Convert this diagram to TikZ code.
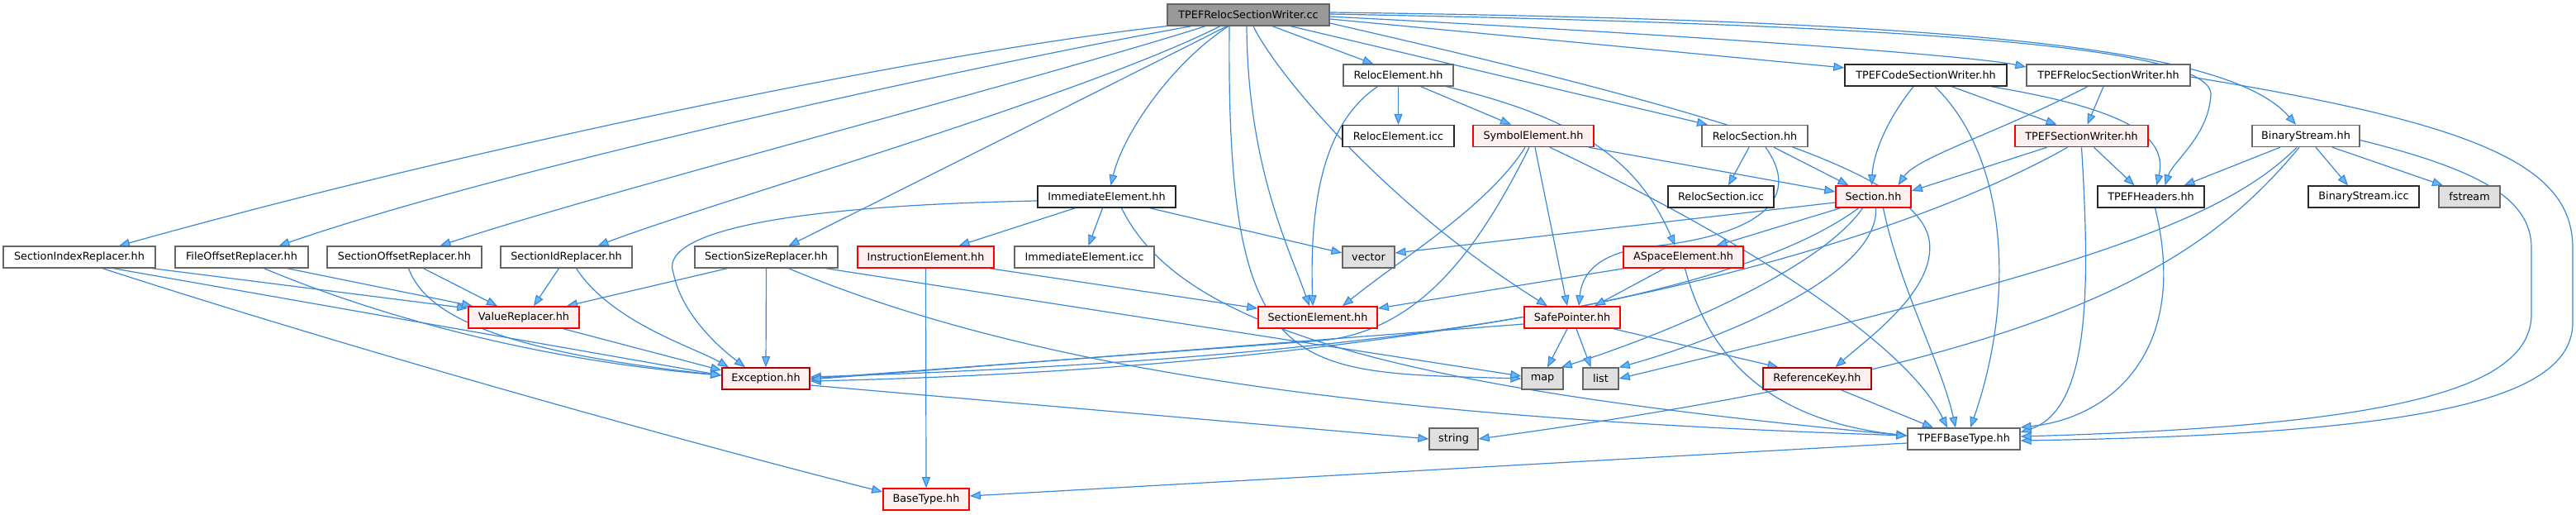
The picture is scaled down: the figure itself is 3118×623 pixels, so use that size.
\documentclass[tikz,border=0pt]{standalone}
\usepackage{fontspec}
\setmainfont{DejaVu Sans}
\usetikzlibrary{arrows.meta}
\definecolor{edgec}{HTML}{3A88D6}
\definecolor{arrf}{HTML}{63B8FF}
\definecolor{bordc}{HTML}{666666}
\definecolor{darkc}{HTML}{2A2A2A}
\definecolor{redf}{HTML}{FFF0F0}
\definecolor{extf}{HTML}{E0E0E0}
\definecolor{rootf}{HTML}{999999}
\definecolor{dred}{HTML}{B00000}
\pgfdeclarelayer{edges}
\pgfsetlayers{edges,main}
\begin{document}
\begin{tikzpicture}[x=1pt,y=-1pt,
  box/.style={rectangle, inner sep=0pt, minimum height=26pt, font=\fontsize{12.8}{15}\selectfont, line width=1.3pt, text=black},
  nrm/.style={box, draw=bordc, fill=white},
  drk/.style={box, draw=darkc, fill=white},
  redb/.style={box, draw=red, fill=redf, line width=1.6pt},
  dredb/.style={box, draw=dred, fill=redf, line width=1.6pt},
  ext/.style={box, draw=bordc, fill=extf},
  rootb/.style={box, draw=bordc, fill=rootf},
  ed/.style={draw=edgec, line width=1.2pt, -{Triangle[length=13pt,width=10pt,fill=arrf]}}
]
\useasboundingbox (0,0) rectangle (3118,623);

% nodes
\node[rootb, minimum width=196pt] (R) at (1511,18) {TPEFRelocSectionWriter.cc};
\node[nrm, minimum width=133pt] (RE) at (1692.5,91) {RelocElement.hh};
\node[drk, minimum width=196pt] (TCSW) at (2331,91) {TPEFCodeSectionWriter.hh};
\node[nrm, minimum width=198pt] (TRSW) at (2552,91) {TPEFRelocSectionWriter.hh};
\node[drk, minimum width=135pt] (REicc) at (1692.5,164.5) {RelocElement.icc};
\node[redb, minimum width=146pt] (SymE) at (1856,164.5) {SymbolElement.hh};
\node[nrm, minimum width=128pt] (RS) at (2124,164.5) {RelocSection.hh};
\node[redb, minimum width=161pt] (TSW) at (2519.5,164.5) {TPEFSectionWriter.hh};
\node[nrm, minimum width=130pt] (BS) at (2791,164.5) {BinaryStream.hh};
\node[drk, minimum width=167pt] (IE) at (1339.5,238) {ImmediateElement.hh};
\node[drk, minimum width=128pt] (RSicc) at (2083,238) {RelocSection.icc};
\node[redb, minimum width=91pt] (Sec) at (2267.5,238) {Section.hh};
\node[drk, minimum width=129pt] (TH) at (2603.5,238) {TPEFHeaders.hh};
\node[drk, minimum width=134pt] (BSicc) at (2861,238) {BinaryStream.icc};
\node[ext, minimum width=74pt] (fst) at (2989,238) {fstream};
\node[nrm, minimum width=184pt] (SIR) at (96,311) {SectionIndexReplacer.hh};
\node[nrm, minimum width=161pt] (FOR) at (292.5,311) {FileOffsetReplacer.hh};
\node[nrm, minimum width=187pt] (SOR) at (489.5,311) {SectionOffsetReplacer.hh};
\node[nrm, minimum width=159pt] (SIdR) at (685.5,311) {SectionIdReplacer.hh};
\node[nrm, minimum width=173pt] (SSR) at (927.5,311) {SectionSizeReplacer.hh};
\node[redb, minimum width=165pt] (InstrE) at (1120.5,311) {InstructionElement.hh};
\node[nrm, minimum width=169pt] (IEicc) at (1312.5,311) {ImmediateElement.icc};
\node[ext, minimum width=63pt] (vec) at (1656.5,311) {vector};
\node[redb, minimum width=145pt] (ASE) at (2037.5,311) {ASpaceElement.hh};
\node[redb, minimum width=134pt] (VR) at (634,384) {ValueReplacer.hh};
\node[redb, minimum width=144pt] (SE) at (1595,384) {SectionElement.hh};
\node[redb, minimum width=116pt] (SP) at (1903,384) {SafePointer.hh};
\node[dredb, minimum width=106pt] (Exc) at (927,458) {Exception.hh};
\node[ext, minimum width=50pt] (map) at (1867,458) {map};
\node[ext, minimum width=43pt] (list) at (1937.5,458) {list};
\node[dredb, minimum width=131pt] (RK) at (2199.5,458) {ReferenceKey.hh};
\node[ext, minimum width=59pt] (str) at (1759.5,531) {string};
\node[nrm, minimum width=136pt] (TBT) at (2377,531) {TPEFBaseType.hh};
\node[redb, minimum width=104pt] (BT) at (1121,604) {BaseType.hh};

\begin{pgfonlayer}{edges}
% root edges
\draw[ed] (R.south west) .. controls (1150,60) and (600,170) .. ([xshift=48pt]SIR.north);
\draw[ed] ([xshift=-69pt]R.south) .. controls (1200,75) and (620,200) .. ([xshift=45pt]FOR.north);
\draw[ed] ([xshift=-52pt]R.south) .. controls (1260,95) and (720,235) .. ([xshift=43pt]SOR.north);
\draw[ed] ([xshift=-34pt]R.south) .. controls (1300,120) and (860,245) .. ([xshift=38pt]SIdR.north);
\draw[ed] ([xshift=-26pt]R.south) .. controls (1400,75) and (1050,250) .. ([xshift=27pt]SSR.north);
\draw[ed] ([xshift=-24pt]R.south) .. controls (1420,75) and (1360,160) .. ([xshift=5pt]IE.north);
\draw[ed] ([xshift=29pt]R.south) -- ([xshift=-30pt]RE.north);
\draw[ed] ([xshift=51pt]R.south) -- ([xshift=-57pt]RS.north);
\draw[ed] ([xshift=6pt]R.south) .. controls (1545,90) and (1680,250) .. ([xshift=-30pt]SP.north);
\draw[ed] ([xshift=-2pt]R.south) .. controls (1510,200) and (1560,300) .. ([xshift=-10pt]SE.north);
\draw[ed] ([xshift=-23pt]R.south) .. controls (1484,460) and (1560,450) .. (map.west);
\draw[ed] ([yshift=-10pt]R.east) .. controls (2100,140) and (2320,210) .. (2335,290) .. controls (2345,350) and (2260,410) .. ([xshift=22pt]RK.north);
\draw[ed] ([yshift=-5pt]R.east) -- ([yshift=9pt]TCSW.west);
\draw[ed] ([yshift=-2pt]R.east) .. controls (2000,40) and (2380,66) .. ([yshift=10pt]TRSW.west);
\draw[ed] ([yshift=1pt]R.east) .. controls (2300,30) and (2680,55) .. (2676,115) .. controls (2673,165) and (2630,195) .. ([xshift=17pt]TH.north);
\draw[ed] ([yshift=3pt]R.east) .. controls (2400,25) and (2700,60) .. ([xshift=-12pt]BS.north);

% RelocElement
\draw[ed] (RE.south) -- (REicc.north);
\draw[ed] ([xshift=27pt]RE.south) -- ([xshift=-27pt]SymE.north);
\draw[ed] ([xshift=58pt]RE.south) .. controls (1920,145) and (1985,200) .. ([xshift=-10pt]ASE.north);
\draw[ed] ([xshift=-25pt]RE.south) .. controls (1600,150) and (1585,250) .. ([xshift=-6pt]SE.north);

% SymbolElement
\draw[ed] ([xshift=67pt]SymE.south) -- ([yshift=6pt]Sec.west);
\draw[ed] ([xshift=-10pt]SymE.south) .. controls (1800,250) and (1700,310) .. ([xshift=30pt]SE.north);
\draw[ed] ([xshift=-5pt]SymE.south) .. controls (1790,300) and (1720,400) .. (1600,412) -- (Exc.east);
\draw[ed] ([xshift=2pt]SymE.south) -- ([xshift=-6pt]SP.north);
\draw[ed] ([xshift=20pt]SymE.south) .. controls (2050,260) and (2300,400) .. ([xshift=-20pt]TBT.north);

% RelocSection
\draw[ed] ([xshift=-7pt]RS.south) -- ([xshift=9pt]RSicc.north);
\draw[ed] ([xshift=23pt]RS.south) -- ([xshift=-30pt]Sec.north);
\draw[ed] ([xshift=13pt]RS.south) .. controls (2185,245) and (2120,285) .. (2000,298) .. controls (1935,305) and (1915,330) .. ([xshift=8pt]SP.north);

% TPEFCodeSectionWriter
\draw[ed] ([xshift=-15pt]TCSW.south) .. controls (2280,150) and (2267,190) .. ([xshift=-2pt]Sec.north);
\draw[ed] ([xshift=31pt]TCSW.south) -- ([xshift=-30pt]TSW.north);
\draw[ed] ([xshift=79pt]TCSW.south) .. controls (2560,130) and (2625,160) .. ([xshift=7pt]TH.north);
\draw[ed] ([xshift=11pt]TCSW.south) .. controls (2430,190) and (2440,360) .. ([xshift=8pt]TBT.north);

% TPEFRelocSectionWriter.hh
\draw[ed] ([xshift=-6pt]TRSW.south) -- ([xshift=7pt]TSW.north);
\draw[ed] ([xshift=-25pt]TRSW.south) .. controls (2420,160) and (2320,190) .. ([xshift=30pt]Sec.north);
\draw[ed] ([yshift=-2pt]TRSW.east) .. controls (3000,150) and (3114,200) .. (3114,300) -- (3114,390) .. controls (3114,480) and (2950,525) .. ([yshift=-2pt]TBT.east);

% TPEFSectionWriter
\draw[ed] ([xshift=-42pt]TSW.south) -- ([yshift=7pt]Sec.east);
\draw[ed] ([xshift=-17pt]TSW.south) .. controls (2340,270) and (1900,440) .. ([yshift=-3pt]Exc.east);
\draw[ed] (TSW.south) .. controls (2530,350) and (2530,495) .. ([yshift=8pt]TBT.east);
\draw[ed] ([xshift=15pt]TSW.south) -- ([xshift=-20pt]TH.north);

% BinaryStream
\draw[ed] ([xshift=-31pt]BS.south) -- ([xshift=40pt]TH.north);
\draw[ed] ([xshift=12pt]BS.south) -- ([xshift=-19pt]BSicc.north);
\draw[ed] ([xshift=32pt]BS.south) -- ([xshift=-32pt]fst.north);
\draw[ed] ([yshift=-5pt]BS.east) .. controls (3000,205) and (3064,240) .. (3064,300) -- (3064,380) .. controls (3064,470) and (2900,515) .. ([yshift=3pt]TBT.east);
\draw[ed] ([xshift=-8pt]BS.south) .. controls (2650,340) and (2450,440) .. (str.east);
\draw[ed] ([xshift=-11pt]BS.south) .. controls (2680,280) and (2450,340) .. (list.east);

% Section
\draw[ed] ([yshift=-7pt]Sec.west) -- ([yshift=5pt]vec.east);
\draw[ed] ([xshift=-40pt]Sec.south) -- ([xshift=40pt]ASE.north);
\draw[ed] ([xshift=-18pt]Sec.south) .. controls (2130,340) and (1800,430) .. ([yshift=2pt]Exc.east);
\draw[ed] ([xshift=-13pt]Sec.south) .. controls (2200,330) and (2000,410) .. ([xshift=-3pt]map.north east);
\draw[ed] ([xshift=3pt]Sec.south) .. controls (2275,340) and (2050,420) .. (list.north east);
\draw[ed] ([xshift=12pt]Sec.south) .. controls (2300,350) and (2350,440) .. ([xshift=-10pt]TBT.north);

% ASpaceElement
\draw[ed] ([xshift=-72pt]ASE.south) -- ([yshift=11pt]SE.east);
\draw[ed] ([xshift=-23pt]ASE.south) -- ([xshift=27pt]SP.north);
\draw[ed] ([xshift=2pt]ASE.south) .. controls (2070,440) and (2150,510) .. ([yshift=4pt]TBT.west);

% SafePointer
\draw[ed] ([xshift=-6pt]SP.south) -- ([xshift=6pt]map.north);
\draw[ed] ([xshift=5pt]SP.south) -- ([xshift=-12pt]list.north);
\draw[ed] ([xshift=50pt]SP.south) -- ([xshift=-47pt]RK.north);
\draw[ed] ([yshift=-8pt]SP.west) -- ([yshift=-1pt]Exc.east);

% misc
\draw[ed] ([xshift=29pt]RK.south) -- ([xshift=-37pt]TBT.north);
\draw[ed] ([xshift=5pt]TH.south) .. controls (2650,420) and (2560,505) .. ([yshift=14pt]TBT.east);
\draw[ed] ([yshift=-5pt]TBT.west) -- ([yshift=4pt]BT.east);
\draw[ed] ([yshift=-8pt]Exc.east) -- (str.west);

% ImmediateElement
\draw[ed] ([xshift=-38pt]IE.south) -- ([xshift=40pt]InstrE.north);
\draw[ed] ([xshift=-5pt]IE.south) -- ([xshift=5pt]IEicc.north);
\draw[ed] ([xshift=52pt]IE.south) -- ([yshift=5pt]vec.west);
\draw[ed] ([yshift=-5pt]IE.west) .. controls (900,250) and (800,290) .. (815,330) .. controls (825,380) and (870,420) .. ([xshift=-25pt]Exc.north);
\draw[ed] ([xshift=18pt]IE.south) .. controls (1430,400) and (1700,470) .. ([yshift=4pt]TBT.west);

% SectionSizeReplacer
\draw[ed] ([xshift=-47pt]SSR.south) -- ([xshift=52pt]VR.north);
\draw[ed] (SSR.south) -- (Exc.north);
\draw[ed] ([xshift=27pt]SSR.south) .. controls (1300,470) and (1800,510) .. ([yshift=4pt]TBT.west);
\draw[ed] ([xshift=72pt]SSR.south) -- ([yshift=3pt]map.west);

% InstructionElement
\draw[ed] (InstrE.south) -- (BT.north);
\draw[ed] ([xshift=78pt]InstrE.south) -- ([yshift=11pt]SE.west);

% replacers
\draw[ed] ([xshift=88pt]SIR.south) -- ([yshift=11pt]VR.west);
\draw[ed] ([xshift=41pt]SIR.south) -- ([yshift=4pt]Exc.west);
\draw[ed] ([xshift=28pt]SIR.south) .. controls (450,430) and (850,540) .. ([yshift=9pt]BT.west);
\draw[ed] ([xshift=55pt]FOR.south) -- ([xshift=-62pt]VR.north);
\draw[ed] ([xshift=27pt]FOR.south) .. controls (500,400) and (700,440) .. ([yshift=4pt]Exc.west);
\draw[ed] ([xshift=23pt]SOR.south) -- ([xshift=-32pt]VR.north);
\draw[ed] ([xshift=5pt]SOR.south) .. controls (515,380) and (600,425) .. ([yshift=4pt]Exc.west);
\draw[ed] ([xshift=-9pt]SIdR.south) -- ([xshift=12pt]VR.north);
\draw[ed] ([xshift=12pt]SIdR.south) .. controls (740,390) and (840,420) .. ([xshift=-45pt]Exc.north);
\draw[ed] ([xshift=48pt]VR.south) -- ([yshift=10pt]Exc.west);
\end{pgfonlayer}
\end{tikzpicture}
\end{document}
